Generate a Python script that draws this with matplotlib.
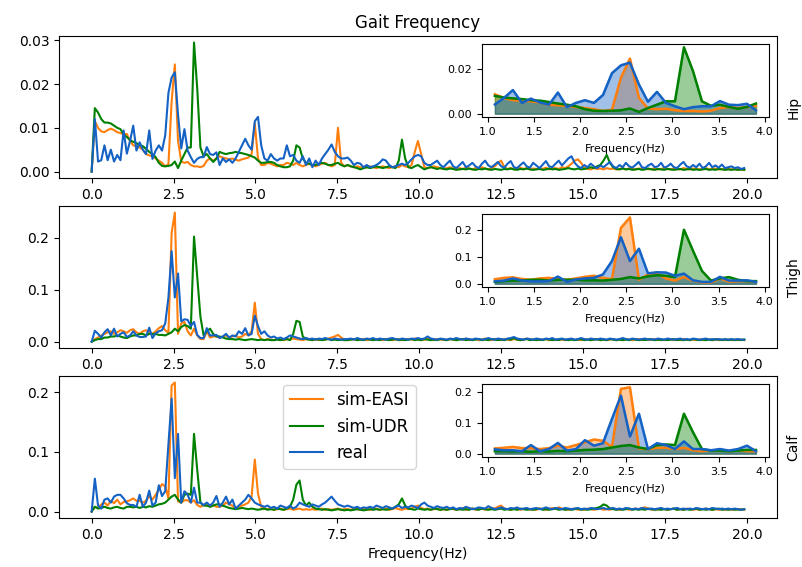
import numpy as np
import matplotlib
matplotlib.use('Agg')
import matplotlib.pyplot as plt

# FFT bins: 100 Hz sampling, 1024 points -> k * 0.0977 Hz, k = 0..204
freq = np.arange(205) * 100 / 1024

# Hip spectra, in units of 1e-4
hip_easi = np.array([
    0, 115, 100, 92, 90, 95, 98, 95, 90, 88,
    85, 86, 70, 60, 58, 55, 50, 40, 37, 35,
    30, 25, 20, 12, 17, 160, 245, 70, 23, 20,
    22, 15, 12, 12, 10, 13, 25, 30, 25, 30,
    35, 32, 30, 28, 30, 27, 25, 28, 30, 32,
    40, 110, 30, 15, 15, 20, 18, 15, 12, 15,
    15, 20, 18, 15, 20, 15, 12, 15, 18, 15,
    12, 15, 18, 20, 15, 12, 15, 100, 20, 12,
    15, 12, 10, 12, 10, 8, 10, 12, 10, 8,
    10, 12, 10, 8, 10, 12, 10, 15, 12, 10,
    15, 45, 70, 40, 10, 8, 10, 12, 10, 8,
    6, 8, 10, 7, 5, 8, 6, 9, 7, 5,
    8, 6, 10, 7, 5, 8, 12, 20, 25, 10,
    6, 8, 5, 7, 9, 6, 8, 5, 7, 6,
    8, 6, 9, 5, 7, 8, 6, 10, 8, 12,
    18, 25, 28, 20, 8, 6, 5, 8, 6, 7,
    5, 8, 6, 7, 5, 6, 8, 5, 7, 6,
    5, 7, 6, 8, 5, 6, 7, 5, 6, 8,
    6, 5, 7, 6, 5, 8, 6, 5, 7, 6,
    5, 6, 8, 5, 6, 7, 5, 6, 5, 6,
    5, 6, 5, 4, 5]) * 1e-4
hip_udr = np.array([
    0, 145, 135, 120, 112, 112, 110, 105, 100, 97,
    85, 79, 72, 68, 65, 60, 58, 52, 45, 40,
    33, 20, 13, 12, 13, 15, 23, 8, 25, 40,
    55, 55, 295, 190, 55, 35, 40, 30, 22, 30,
    45, 42, 40, 42, 43, 45, 43, 42, 40, 38,
    35, 32, 25, 20, 20, 22, 22, 20, 15, 12,
    10, 10, 12, 25, 60, 55, 30, 20, 18, 15,
    15, 18, 20, 18, 15, 15, 18, 20, 15, 12,
    15, 12, 10, 8, 5, 8, 10, 8, 10, 12,
    10, 8, 10, 12, 10, 8, 25, 73, 30, 10,
    8, 12, 15, 10, 5, 8, 10, 8, 6, 8,
    6, 5, 7, 6, 4, 5, 6, 5, 7, 5,
    4, 6, 5, 7, 5, 4, 6, 5, 4, 6,
    5, 7, 5, 4, 6, 5, 7, 5, 4, 5,
    6, 4, 5, 7, 5, 6, 4, 5, 6, 8,
    6, 5, 7, 5, 6, 8, 10, 8, 12, 15,
    25, 38, 20, 10, 6, 5, 7, 5, 6, 4,
    5, 6, 4, 5, 7, 5, 4, 6, 5, 4,
    6, 5, 4, 5, 6, 4, 5, 6, 4, 5,
    4, 5, 6, 4, 5, 4, 6, 5, 4, 5,
    4, 5, 4, 5, 4]) * 1e-4
hip_real = np.array([
    0, 120, 23, 26, 60, 26, 50, 23, 38, 26,
    94, 41, 70, 105, 48, 67, 50, 40, 94, 29,
    48, 60, 48, 83, 180, 215, 227, 130, 53, 97,
    48, 33, 20, 29, 33, 33, 56, 40, 38, 44,
    15, 30, 22, 28, 20, 30, 45, 60, 75, 60,
    50, 115, 125, 60, 30, 25, 40, 30, 25, 30,
    30, 60, 35, 38, 25, 20, 35, 15, 30, 10,
    25, 15, 30, 40, 50, 62, 45, 35, 30, 30,
    32, 25, 15, 20, 18, 10, 15, 10, 12, 15,
    20, 28, 25, 15, 10, 12, 15, 18, 15, 20,
    28, 35, 38, 35, 20, 15, 15, 20, 25, 15,
    10, 18, 25, 12, 8, 15, 22, 10, 14, 20,
    12, 8, 18, 25, 14, 10, 16, 22, 12, 9,
    18, 24, 10, 8, 15, 21, 12, 9, 20, 14,
    8, 16, 24, 12, 10, 18, 25, 14, 22, 30,
    35, 20, 12, 8, 15, 10, 18, 12, 8, 14,
    10, 16, 22, 12, 8, 15, 10, 20, 12, 9,
    15, 22, 10, 8, 14, 18, 10, 12, 20, 9,
    12, 18, 10, 8, 16, 22, 12, 9, 15, 10,
    18, 8, 12, 20, 10, 14, 9, 16, 8, 10,
    12, 8, 10, 6, 8]) * 1e-4

# Thigh spectra, in units of 1e-3
thigh_easi = np.array([
    0, 5, 8, 12, 15, 18, 20, 15, 18, 22,
    20, 17, 22, 24, 18, 15, 20, 22, 18, 15,
    20, 26, 30, 22, 17, 209, 248, 15, 35, 38,
    20, 12, 25, 12, 5, 5, 20, 8, 10, 10,
    8, 10, 12, 8, 10, 12, 8, 10, 15, 12,
    20, 75, 15, 5, 3, 5, 4, 3, 5, 4,
    3, 5, 4, 6, 5, 4, 3, 5, 4, 3,
    4, 3, 5, 4, 6, 8, 10, 13, 8, 4,
    3, 4, 5, 3, 4, 5, 3, 4, 3, 5,
    4, 3, 5, 4, 3, 4, 5, 3, 4, 5,
    4, 6, 5, 3, 4, 5, 4, 3, 5, 4,
    4, 3, 5, 4, 3, 5, 4, 6, 3, 4,
    5, 3, 4, 6, 4, 3, 5, 4, 3, 5,
    4, 3, 5, 4, 3, 4, 6, 3, 4, 5,
    3, 4, 5, 3, 4, 3, 5, 4, 3, 4,
    5, 3, 4, 3, 5, 4, 3, 4, 5, 3,
    4, 3, 4, 5, 3, 4, 3, 5, 4, 3,
    4, 5, 3, 4, 3, 4, 5, 3, 4, 3,
    5, 4, 3, 4, 3, 5, 4, 3, 4, 3,
    4, 3, 5, 4, 3, 4, 3, 4, 3, 4,
    3, 4, 3, 4, 3]) * 1e-3
thigh_udr = np.array([
    0, 3, 5, 5, 8, 8, 10, 10, 12, 10,
    8, 7, 10, 12, 12, 15, 15, 12, 15, 15,
    15, 13, 13, 12, 15, 18, 25, 20, 28, 32,
    30, 25, 202, 124, 48, 12, 20, 25, 15, 10,
    10, 8, 6, 5, 5, 4, 5, 4, 3, 4,
    5, 4, 3, 4, 3, 4, 3, 3, 4, 3,
    4, 5, 3, 15, 40, 38, 10, 5, 4, 3,
    5, 4, 3, 4, 5, 3, 4, 3, 4, 3,
    3, 4, 5, 3, 4, 3, 5, 4, 3, 4,
    3, 5, 4, 3, 4, 5, 3, 4, 3, 4,
    5, 3, 4, 3, 5, 4, 3, 4, 3, 5,
    4, 3, 5, 4, 3, 4, 5, 3, 4, 3,
    4, 5, 3, 4, 3, 5, 4, 3, 4, 3,
    5, 4, 7, 4, 3, 4, 5, 3, 4, 3,
    4, 3, 5, 4, 3, 4, 3, 5, 4, 3,
    4, 3, 4, 5, 3, 4, 3, 4, 5, 3,
    4, 3, 5, 4, 3, 4, 3, 4, 3, 5,
    4, 3, 4, 3, 5, 4, 3, 4, 3, 4,
    3, 4, 5, 3, 4, 3, 4, 3, 5, 4,
    3, 4, 3, 4, 3, 5, 4, 3, 4, 3,
    4, 3, 4, 3, 4]) * 1e-3
thigh_real = np.array([
    0, 21, 15, 8, 18, 24, 12, 25, 10, 15,
    18, 9, 12, 20, 12, 9, 9, 10, 27, 7,
    16, 20, 22, 35, 85, 174, 85, 131, 39, 43,
    42, 30, 38, 13, 7, 7, 26, 12, 12, 13,
    7, 10, 15, 8, 12, 10, 20, 15, 26, 12,
    15, 50, 30, 15, 20, 12, 8, 10, 6, 8,
    5, 8, 12, 10, 8, 6, 5, 7, 5, 6,
    4, 6, 5, 7, 5, 4, 6, 5, 4, 5,
    5, 6, 4, 7, 5, 4, 6, 5, 7, 4,
    6, 5, 4, 6, 7, 5, 4, 6, 5, 4,
    6, 5, 7, 5, 6, 10, 6, 5, 4, 6,
    5, 4, 6, 5, 7, 5, 4, 6, 5, 4,
    6, 5, 4, 5, 7, 5, 4, 6, 5, 4,
    6, 7, 9, 6, 5, 4, 6, 5, 4, 6,
    5, 4, 6, 5, 7, 4, 5, 6, 4, 5,
    6, 4, 5, 7, 5, 4, 6, 5, 4, 6,
    5, 4, 6, 5, 4, 5, 7, 5, 4, 6,
    5, 4, 5, 6, 4, 5, 4, 6, 5, 4,
    6, 5, 4, 5, 6, 4, 5, 4, 6, 5,
    4, 5, 6, 4, 5, 4, 5, 4, 5, 4,
    5, 4, 5, 4, 4]) * 1e-3

# Calf spectra, in units of 1e-3
calf_easi = np.array([
    0, 8, 6, 12, 15, 10, 18, 14, 20, 12,
    16, 17, 19, 22, 18, 18, 15, 18, 26, 20,
    28, 37, 46, 42, 22, 211, 216, 17, 15, 19,
    19, 15, 19, 11, 8, 11, 11, 8, 11, 8,
    8, 10, 15, 12, 10, 5, 8, 10, 12, 15,
    25, 87, 30, 8, 5, 4, 5, 3, 4, 5,
    3, 4, 5, 3, 4, 5, 3, 4, 3, 4,
    3, 4, 5, 3, 4, 3, 4, 5, 3, 4,
    4, 3, 5, 4, 3, 5, 4, 3, 4, 5,
    3, 4, 5, 3, 4, 6, 4, 3, 5, 4,
    5, 8, 10, 6, 4, 5, 3, 4, 5, 3,
    4, 3, 5, 4, 3, 4, 6, 3, 4, 5,
    3, 4, 5, 3, 4, 6, 5, 8, 10, 5,
    4, 3, 5, 4, 3, 4, 5, 3, 4, 3,
    5, 4, 3, 4, 6, 5, 7, 5, 4, 3,
    4, 5, 3, 4, 3, 5, 4, 3, 4, 5,
    3, 4, 3, 5, 4, 3, 4, 5, 3, 4,
    5, 4, 6, 7, 5, 3, 4, 3, 5, 4,
    3, 4, 5, 3, 4, 3, 5, 4, 3, 4,
    3, 4, 5, 4, 3, 4, 3, 4, 3, 4,
    3, 4, 3, 4, 3]) * 1e-3
calf_udr = np.array([
    0, 8, 5, 6, 8, 6, 5, 7, 8, 6,
    5, 8, 8, 7, 8, 6, 8, 7, 9, 8,
    10, 12, 13, 15, 20, 25, 28, 20, 15, 28,
    30, 28, 130, 70, 15, 10, 10, 8, 10, 12,
    12, 10, 8, 6, 5, 4, 5, 6, 5, 4,
    5, 4, 3, 4, 5, 3, 4, 3, 5, 4,
    3, 5, 8, 20, 45, 52, 20, 10, 15, 8,
    5, 4, 3, 4, 3, 2, 3, 4, 3, 2,
    3, 2, 3, 4, 3, 2, 3, 4, 3, 4,
    3, 4, 3, 4, 5, 8, 12, 22, 10, 5,
    4, 3, 5, 4, 3, 4, 3, 5, 4, 3,
    4, 3, 4, 5, 3, 4, 3, 4, 3, 5,
    4, 3, 5, 4, 3, 4, 3, 4, 5, 3,
    4, 3, 4, 3, 5, 4, 3, 4, 3, 4,
    5, 3, 4, 3, 4, 5, 3, 4, 3, 4,
    3, 4, 5, 3, 4, 3, 4, 5, 6, 8,
    12, 10, 5, 4, 3, 4, 3, 4, 5, 3,
    4, 3, 4, 3, 5, 4, 3, 4, 3, 4,
    3, 4, 5, 3, 4, 3, 4, 3, 4, 5,
    3, 4, 3, 4, 3, 4, 5, 3, 4, 3,
    4, 3, 4, 3, 4]) * 1e-3
calf_real = np.array([
    0, 55, 10, 5, 20, 22, 15, 25, 28, 28,
    22, 14, 11, 11, 8, 28, 8, 15, 35, 10,
    15, 44, 26, 34, 113, 189, 56, 130, 15, 34,
    28, 15, 40, 15, 15, 11, 15, 10, 15, 26,
    8, 15, 25, 12, 20, 5, 10, 15, 20, 28,
    22, 15, 12, 10, 8, 10, 6, 8, 5, 10,
    8, 6, 10, 5, 8, 15, 12, 10, 8, 12,
    10, 8, 12, 15, 20, 25, 18, 12, 10, 8,
    10, 8, 6, 8, 5, 7, 6, 8, 6, 10,
    8, 6, 9, 7, 5, 8, 10, 6, 8, 7,
    10, 8, 6, 12, 15, 10, 8, 6, 9, 7,
    6, 8, 5, 7, 4, 6, 5, 8, 6, 4,
    5, 7, 6, 5, 9, 6, 4, 5, 7, 5,
    4, 6, 5, 7, 4, 5, 6, 4, 5, 6,
    4, 5, 7, 5, 4, 6, 5, 4, 6, 5,
    4, 5, 6, 4, 5, 4, 6, 5, 4, 5,
    6, 4, 5, 6, 4, 5, 4, 6, 5, 4,
    5, 4, 6, 5, 4, 5, 4, 5, 6, 4,
    5, 4, 5, 6, 4, 5, 4, 5, 4, 6,
    5, 4, 5, 4, 6, 5, 4, 5, 4, 5,
    4, 5, 4, 3, 4]) * 1e-3

joints = ['Hip', 'Thigh', 'Calf']
spectra = [(hip_easi, hip_udr, hip_real),
           (thigh_easi, thigh_udr, thigh_real),
           (calf_easi, calf_udr, calf_real)]
main_yticks = [[0, 0.01, 0.02, 0.03], [0, 0.1, 0.2], [0, 0.1, 0.2]]
inset_yticks = [[0, 0.02], [0, 0.1, 0.2], [0, 0.1, 0.2]]

labels = ['sim-EASI', 'sim-UDR', 'real']
colors = ['#ff7f0e', 'green', '#1462c4']

fig = plt.figure(figsize=(8.03, 5.67), dpi=100)
bottoms = [0.686, 0.386, 0.0864]
zoom = (freq > 1.0) & (freq < 4.0)

for i, joint in enumerate(joints):
    ax = fig.add_axes([0.0735, bottoms[i], 0.894, 0.2504])
    for y, c, lab in zip(spectra[i], colors, labels):
        ax.plot(freq, y, color=c, lw=1.5, label=lab)
    ax.set_xticks(np.arange(0, 20.1, 2.5))
    ax.set_yticks(main_yticks[i])
    ax.yaxis.set_label_position('right')
    ax.set_ylabel(joint, labelpad=7)

    ins = ax.inset_axes([0.589, 0.43, 0.40, 0.514])
    for y, c in zip(spectra[i], colors):
        ins.plot(freq[zoom], y[zoom], color=c, lw=1.8)
        ins.fill_between(freq[zoom], 0, y[zoom], color=c, alpha=0.4)
    ins.set_xticks(np.arange(1.0, 4.01, 0.5))
    ins.set_yticks(inset_yticks[i])
    ins.tick_params(labelsize=8)
    ins.set_xlabel('Frequency(Hz)', fontsize=8, labelpad=5)

    if i == 0:
        ax.set_title('Gait Frequency')
    if i == 2:
        ax.set_xlabel('Frequency(Hz)')
        ax.legend(loc='upper left', bbox_to_anchor=(0.312, 0.94),
                  borderaxespad=0, fontsize=12)

fig.savefig('out.png', dpi=100)
